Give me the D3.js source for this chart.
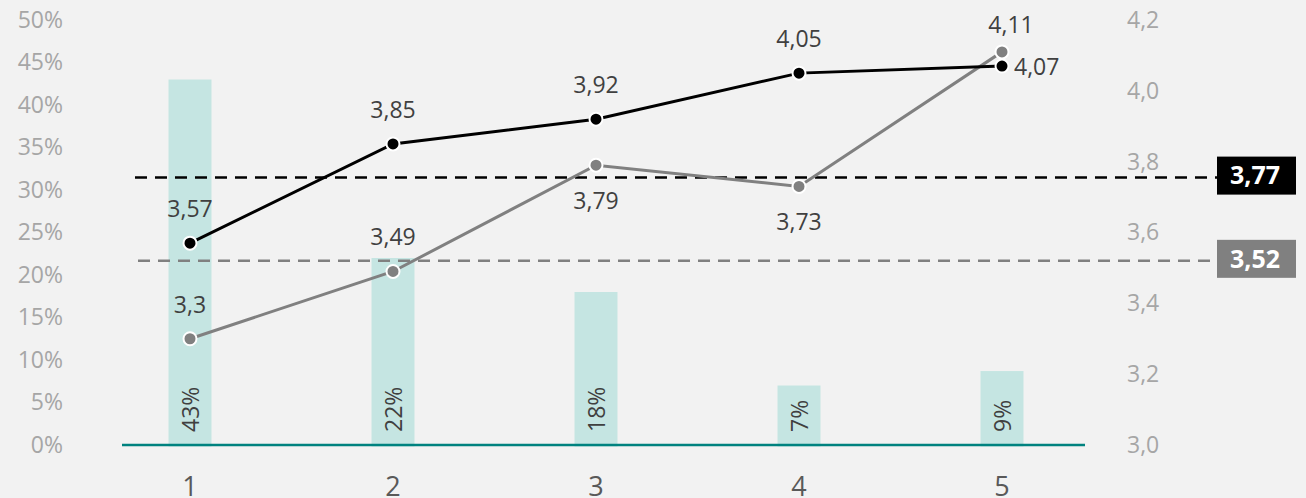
<!DOCTYPE html>
<html>
<head>
<meta charset="utf-8">
<script src="https://cdn.jsdelivr.net/npm/d3@7"></script>
<style>
  html, body { margin: 0; padding: 0; background: #f2f2f2; }
  svg { display: block; font-family: "Open Sans", "Noto Sans", sans-serif; }
</style>
</head>
<body>
<svg id="chart" width="1306" height="498"></svg>
<script>
// ---- data ----
const categories = ["1", "2", "3", "4", "5"];
const barShares = [0.43, 0.22, 0.18, 0.07, 0.087];
const barLabels = ["43%", "22%", "18%", "7%", "9%"];
const blackSeries = [3.57, 3.85, 3.92, 4.05, 4.07];
const blackLabels = ["3,57", "3,85", "3,92", "4,05", "4,07"];
const blackLabelPlace = ["above", "above", "above", "above", "right"];
const graySeries = [3.30, 3.49, 3.79, 3.73, 4.11];
const grayLabels = ["3,3", "3,49", "3,79", "3,73", "4,11"];
const grayLabelPlace = ["above", "above", "below", "below", "aboveRight"];
const refLineValues = [3.755, 3.52];
const refLineLabels = ["3,77", "3,52"];
const leftTicks = [0, 0.05, 0.10, 0.15, 0.20, 0.25, 0.30, 0.35, 0.40, 0.45, 0.50];
const leftTickLabels = ["0%", "5%", "10%", "15%", "20%", "25%", "30%", "35%", "40%", "45%", "50%"];
const rightTicks = [3.0, 3.2, 3.4, 3.6, 3.8, 4.0, 4.2];
const rightTickLabels = ["3,0", "3,2", "3,4", "3,6", "3,8", "4,0", "4,2"];

// ---- styles ----
const C = {
  bar: "#c5e5e2", base: "#00827f", black: "#000000", gray: "#808080",
  axisText: "#a6a6a6", labelText: "#404040", catText: "#595959"
};
const FS = 23;

const svg = d3.select("#chart");

const x = d3.scaleBand().domain(categories).range([88.5, 1103.5]).padding(0);
const yL = d3.scaleLinear().domain([0, 0.5]).range([445, 20]);
const yR = d3.scaleLinear().domain([3.0, 4.2]).range([445, 20]);
const cx = c => x(c) + x.bandwidth() / 2;
const barW = 43;

// left axis
const leftAxis = d3.axisLeft(yL).tickValues(leftTicks)
  .tickFormat((d, i) => leftTickLabels[i]).tickSize(0).tickPadding(0);
const gL = svg.append("g").attr("transform", "translate(63,0)").call(leftAxis);
gL.select(".domain").remove();
gL.selectAll("text").attr("fill", C.axisText).attr("font-size", FS)
  .attr("font-family", "Open Sans, sans-serif");

// right axis
const rightAxis = d3.axisRight(yR).tickValues(rightTicks)
  .tickFormat((d, i) => rightTickLabels[i]).tickSize(0).tickPadding(0);
const gR = svg.append("g").attr("transform", "translate(1127,0)").call(rightAxis);
gR.select(".domain").remove();
gR.selectAll("text").attr("fill", C.axisText).attr("font-size", FS)
  .attr("font-family", "Open Sans, sans-serif");

// bars
svg.append("g").selectAll("rect").data(categories).join("rect")
  .attr("x", (d) => cx(d) - barW / 2)
  .attr("width", barW)
  .attr("y", (d, i) => yL(barShares[i]))
  .attr("height", (d, i) => yL(0) - yL(barShares[i]) + 1.5)
  .attr("fill", C.bar);

// baseline
svg.append("line").attr("x1", 122).attr("x2", 1085)
  .attr("y1", yL(0)).attr("y2", yL(0))
  .attr("stroke", C.base).attr("stroke-width", 2.5);

// bar labels
svg.append("g").selectAll("text").data(categories).join("text")
  .attr("transform", d => `translate(${cx(d) + 1},432) rotate(-90)`)
  .attr("dy", "0.35em")
  .attr("text-anchor", "start")
  .attr("font-size", FS)
  .attr("fill", C.labelText)
  .text((d, i) => barLabels[i]);

// reference dashed lines + boxes
const refColors = [C.black, C.gray];
const refStarts = [135, 138];
refLineValues.forEach((v, i) => {
  svg.append("line").attr("x1", refStarts[i]).attr("x2", 1217)
    .attr("y1", yR(v)).attr("y2", yR(v))
    .attr("stroke", refColors[i]).attr("stroke-width", 2.5)
    .attr("stroke-dasharray", "12,8");
  svg.append("rect").attr("x", 1217).attr("width", 79)
    .attr("y", yR(v) - 21).attr("height", 38)
    .attr("fill", refColors[i]);
  svg.append("text").attr("x", 1255).attr("y", yR(v) - 2)
    .attr("dy", "0.35em").attr("text-anchor", "middle")
    .attr("font-size", 25).attr("font-weight", "bold").attr("fill", "#ffffff")
    .text(refLineLabels[i]);
});

// lines
function drawSeries(values, color, labels, places) {
  const line = d3.line().x((d, i) => cx(categories[i])).y(d => yR(d));
  svg.append("path").datum(values).attr("d", line)
    .attr("fill", "none").attr("stroke", color).attr("stroke-width", 3);
  svg.append("g").selectAll("circle").data(values).join("circle")
    .attr("cx", (d, i) => cx(categories[i])).attr("cy", d => yR(d))
    .attr("r", 6.5).attr("fill", color)
    .attr("stroke", "#ffffff").attr("stroke-width", 2);
  svg.append("g").selectAll("text").data(values).join("text")
    .attr("font-size", FS).attr("fill", C.labelText)
    .attr("text-anchor", (d, i) => places[i] === "right" ? "start" : "middle")
    .attr("x", (d, i) => {
      const px = cx(categories[i]);
      if (places[i] === "right") return px + 12;
      if (places[i] === "aboveRight") return px + 9;
      return px;
    })
    .attr("y", (d, i) => {
      const py = yR(d);
      if (places[i] === "above") return py - 26;
      if (places[i] === "aboveRight") return py - 19;
      if (places[i] === "below") return py + 44;
      return py + 9;
    })
    .text((d, i) => labels[i]);
}
drawSeries(graySeries, C.gray, grayLabels, grayLabelPlace);
drawSeries(blackSeries, C.black, blackLabels, blackLabelPlace);

// category labels
svg.append("g").selectAll("text").data(categories).join("text")
  .attr("x", d => cx(d)).attr("y", 496)
  .attr("text-anchor", "middle").attr("font-size", 27)
  .attr("fill", C.catText).text(d => d);
</script>
</body>
</html>
